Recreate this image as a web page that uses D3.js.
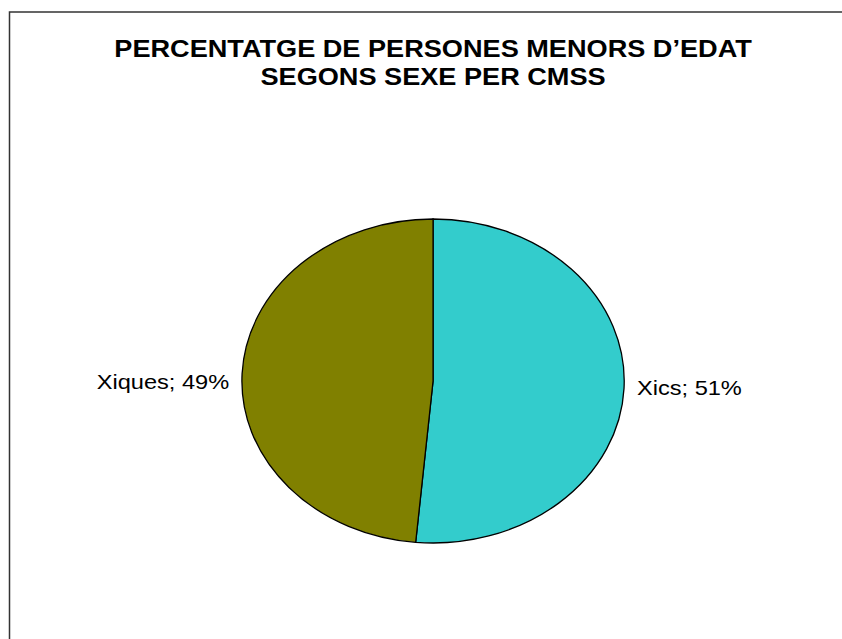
<!DOCTYPE html>
<html>
<head>
<meta charset="utf-8">
<script src="https://cdn.jsdelivr.net/npm/d3@7"></script>
<style>
  body { margin: 0; background: #fff; }
  svg { display: block; }
</style>
</head>
<body>
<svg id="chart" width="842" height="639"></svg>
<script>
// data
const categories = ['Xics', 'Xiques'];
const values = [51.45, 48.55];
const colors = ['#33CCCC', '#808000'];
const titleLines = ['PERCENTATGE DE PERSONES MENORS D\u2019EDAT', 'SEGONS SEXE PER CMSS'];

const svg = d3.select('#chart');

// outer frame (runs off the right and bottom)
svg.append('rect')
    .attr('x', 9.5).attr('y', 12)
    .attr('width', 900).attr('height', 700)
    .attr('fill', 'none')
    .attr('stroke', '#333')
    .attr('stroke-width', 1.5);

// the picture is stretched horizontally
const sx = 1.18;
const g = svg.append('g').attr('transform', `scale(${sx},1)`);

const cx = 367, cy = 381, r = 162;

g.selectAll('text.title')
    .data(titleLines)
    .enter()
    .append('text')
    .attr('class', 'title')
    .attr('x', cx)
    .attr('y', (d, i) => 57 + i * 28)
    .attr('text-anchor', 'middle')
    .attr('font-family', 'Liberation Sans, Arial, sans-serif')
    .attr('font-weight', 'bold')
    .attr('font-size', 23)
    .text(d => d);

const data = categories.map((c, i) => ({ name: c, value: values[i], color: colors[i] }));
const total = d3.sum(values);

const pie = d3.pie().sort(null).value(d => d.value);
const arc = d3.arc().innerRadius(0).outerRadius(r);
const labelArc = d3.arc().innerRadius(r + 11).outerRadius(r + 11);

const pg = g.append('g').attr('transform', `translate(${cx},${cy})`);
const arcs = pie(data);

pg.selectAll('path')
    .data(arcs)
    .enter()
    .append('path')
    .attr('d', arc)
    .attr('fill', d => d.data.color)
    .attr('stroke', '#000')
    .attr('stroke-width', 1.3)
    .attr('vector-effect', 'non-scaling-stroke');

pg.selectAll('text')
    .data(arcs)
    .enter()
    .append('text')
    .attr('x', d => labelArc.centroid(d)[0])
    .attr('y', d => labelArc.centroid(d)[1] * 0.35 + 4)
    .attr('dy', '0.35em')
    .attr('text-anchor', d => labelArc.centroid(d)[0] >= 0 ? 'start' : 'end')
    .attr('font-family', 'Liberation Sans, Arial, sans-serif')
    .attr('font-size', 20)
    .attr('fill', '#000')
    .text(d => `${d.data.name}; ${Math.round(d.data.value / total * 100)}%`);
</script>
</body>
</html>
